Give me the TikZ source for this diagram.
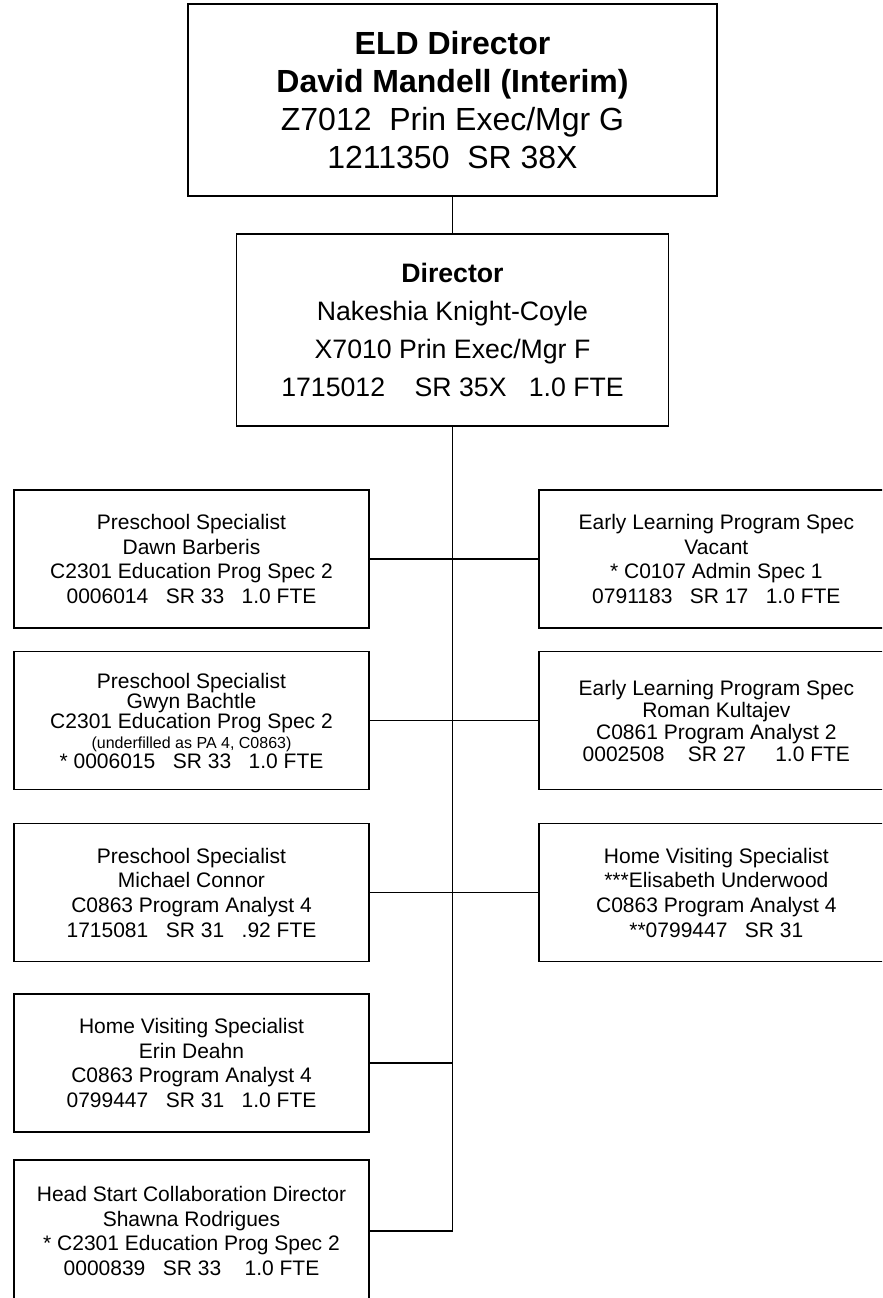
\documentclass[tikz,border=0pt]{standalone}
\usepackage{fontspec}
\setmainfont{Liberation Sans}
\usepackage{tikz}
\usetikzlibrary{positioning}

\begin{document}
\begin{tikzpicture}[
                x=0.75pt, y=-0.75pt,
                every node/.style={draw, line width=1.4pt, align=center, inner sep=0pt},
                headbox/.style={minimum width=396.75pt, minimum height=144pt, font=\fontsize{24}{28.5}\selectfont},
                dirbox/.style={minimum width=324pt, minimum height=144pt, font=\fontsize{20}{28.3}\selectfont},
                staffbox/.style={minimum width=266.25pt, minimum height=103.5pt, font=\fontsize{15.75}{18.5}\selectfont},
                link/.style={draw, line width=1.1pt}
            ]

                \clip (0,0) rectangle (882,1298);

                % Define Nodes
                \node (eld) [headbox] at (452.5,100) {\textbf{ELD Director}\\ \textbf{David Mandell (Interim)}\\ Z7012~~Prin Exec/Mgr G\\ 1211350~~SR 38X};

                \node (dir) [dirbox, below=27pt of eld] {\textbf{Director}\\ Nakeshia Knight-Coyle\\ X7010 Prin Exec/Mgr F\\ 1715012~~~~SR 35X~~~1.0 FTE};

                % left column
                \node (dawn) [staffbox] at (191.5,559) {Preschool Specialist\\ Dawn Barberis\\ C2301 Education Prog Spec 2\\ 0006014~~~SR 33~~~1.0 FTE};

                \node (gwyn) [staffbox, font=\fontsize{15.75}{15}\selectfont] at (191.5,720.5) {Preschool Specialist\\ Gwyn Bachtle\\ C2301 Education Prog Spec 2\\ {\fontsize{12}{15}\selectfont (underfilled as PA 4, C0863)}\\ * 0006015~~~SR 33~~~1.0 FTE};

                \node (connor) [staffbox] at (191.5,892.5) {Preschool Specialist\\ Michael Connor\\ C0863 Program Analyst 4\\ 1715081~~~SR 31~~~.92 FTE};

                \node (deahn) [staffbox] at (191.5,1063) {Home Visiting Specialist\\ Erin Deahn\\ C0863 Program Analyst 4\\ 0799447~~~SR 31~~~1.0 FTE};

                \node (rodrigues) [staffbox, minimum height=106.5pt] at (191.5,1231) {Head Start Collaboration Director\\ Shawna Rodrigues\\ * C2301 Education Prog Spec 2\\ 0000839~~~SR 33~~~~1.0 FTE};

                % right column
                \node (vacant) [staffbox, right=126pt of dawn] {Early Learning Program Spec\\ Vacant\\ * C0107 Admin Spec 1\\ 0791183~~~SR 17~~~1.0 FTE};

                \node (kultajev) [staffbox, font=\fontsize{15.75}{16.5}\selectfont, right=126pt of gwyn] {Early Learning Program Spec\\ Roman Kultajev\\ C0861 Program Analyst 2\\ 0002508~~~~SR 27~~~~~1.0 FTE};

                \node (underwood) [staffbox, right=126pt of connor] {Home Visiting Specialist\\ ***Elisabeth Underwood\\ C0863 Program Analyst 4\\ **0799447~~~SR 31};

                % Draw lines
                \draw[link] (eld.south) -- (dir.north);
                \draw[link] (rodrigues.east) -| (dir.south);
                \draw[link] (deahn.east) -| (dir.south);
                \draw[link] (dawn.east) -- (vacant.west);
                \draw[link] (gwyn.east) -- (kultajev.west);
                \draw[link] (connor.east) -- (underwood.west);

            \end{tikzpicture}
\end{document}
